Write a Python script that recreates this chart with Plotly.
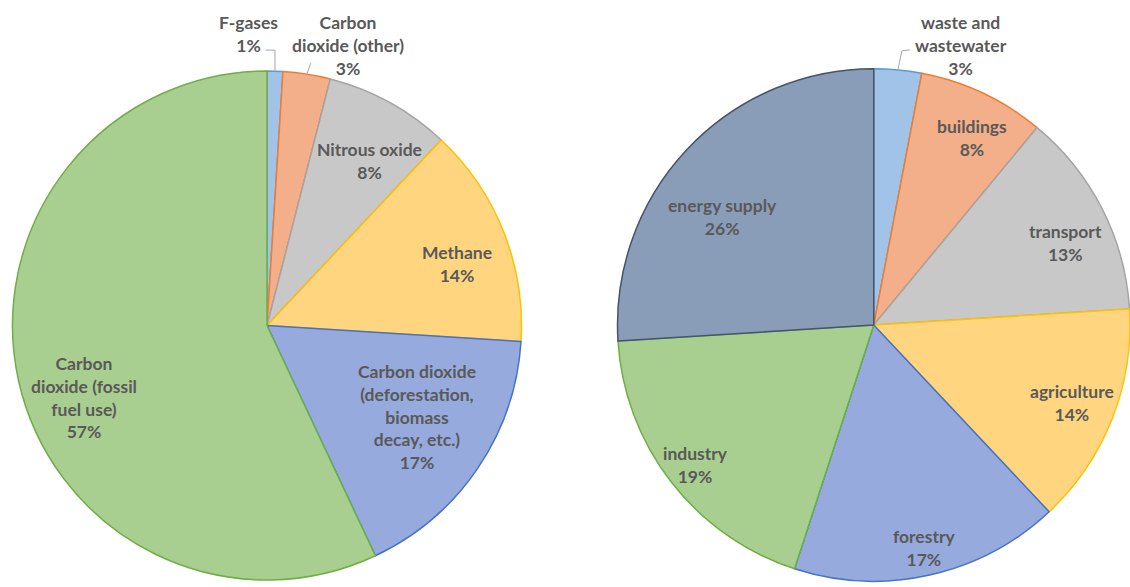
import math
import plotly.graph_objects as go

W, H = 1130, 587

# Global greenhouse gas emissions by gas (share of total, %)
gas_names = [
    "F-gases",
    "Carbon dioxide (other)",
    "Nitrous oxide",
    "Methane",
    "Carbon dioxide (deforestation, biomass decay, etc.)",
    "Carbon dioxide (fossil fuel use)",
]
gas_share = [1, 3, 8, 14, 17, 57]

# Global greenhouse gas emissions by economic sector (share of total, %)
sector_names = [
    "waste and wastewater",
    "buildings",
    "transport",
    "agriculture",
    "forestry",
    "industry",
    "energy supply",
]
sector_share = [3, 8, 13, 14, 17, 19, 26]

# How long names wrap inside the labels
wrapped = {
    "Carbon dioxide (other)": ["Carbon", "dioxide (other)"],
    "Carbon dioxide (deforestation, biomass decay, etc.)":
        ["Carbon dioxide", "(deforestation,", "biomass", "decay, etc.)"],
    "Carbon dioxide (fossil fuel use)": ["Carbon", "dioxide (fossil", "fuel use)"],
    "waste and wastewater": ["waste and", "wastewater"],
}

# Slice styling
gas_fill = ["#A2C3E8", "#F3AF8A", "#C8C8C8", "#FFD67F", "#96AADD", "#A9CF90"]
gas_edge = ["#5B9BD5", "#ED7D31", "#A5A5A5", "#FFC000", "#4472C4", "#70AD47"]
sector_fill = ["#A2C3E8", "#F3AF8A", "#C8C8C8", "#FFD67F", "#96AADD", "#A9CF90", "#8A9DB8"]
sector_edge = ["#5B9BD5", "#ED7D31", "#A5A5A5", "#FFC000", "#4472C4", "#70AD47", "#44546A"]

# Label placement: (radius fraction, angular nudge in degrees from slice middle)
gas_label_pos = [(1.148, -5.5), (1.147, 7.1), (0.761, 3.0), (0.785, 3.7), (0.69, -2.8), (0.773, -9.0)]
sector_label_pos = [(1.143, 11.9), (0.823, 2.5), (0.814, 3.9), (0.83, 0.0), (0.891, 0.0), (0.883, -0.4), (0.724, -7.6)]

# Leader lines for small slices labelled outside: pixel offsets from the rim point
gas_leaders = {0: [(0, 0), (0, -21), (-9, -21)], 1: [(0, 0), (4, -11)]}
sector_leaders = {0: [(0, 0), (4, -19), (12, -20)]}

# Pie centres and radii in pixels
PIES = [
    dict(cx=267.0, cy=325.5, r=254.5),
    dict(cx=873.75, cy=325.0, r=256.25),
]

FONT = dict(family="Lato, Calibri, sans-serif", size=17.5, color="#595959", weight="bold")
LEADER_COLOR = "#A6A6A6"


def px_to_paper(x, y):
    return x / W, 1 - y / H


def domain_for(p):
    x0, y1 = px_to_paper(p["cx"] - p["r"], p["cy"] - p["r"])
    x1, y0 = px_to_paper(p["cx"] + p["r"], p["cy"] + p["r"])
    return dict(x=[max(0, x0), min(1, x1)], y=[max(0, y0), min(1, y1)])


def mid_angles(values):
    total = sum(values)
    out, acc = [], 0.0
    for v in values:
        out.append((acc + v / 2) / total * 360.0)
        acc += v
    return out


def polar(p, frac, deg):
    a = math.radians(deg)
    return p["cx"] + frac * p["r"] * math.sin(a), p["cy"] - frac * p["r"] * math.cos(a)


fig = go.Figure()
annotations, shapes = [], []

series = [
    (gas_names, gas_share, gas_fill, gas_edge, gas_label_pos, gas_leaders),
    (sector_names, sector_share, sector_fill, sector_edge, sector_label_pos, sector_leaders),
]

for p, (names, vals, fills, edges, lpos, leaders) in zip(PIES, series):
    fig.add_trace(go.Pie(
        labels=names,
        values=vals,
        sort=False,
        direction="clockwise",
        rotation=0,
        textinfo="none",
        hoverinfo="label+percent",
        marker=dict(colors=fills, line=dict(color=edges, width=1.5)),
        domain=domain_for(p),
        showlegend=False,
    ))
    mids = mid_angles(vals)
    for i, (name, v) in enumerate(zip(names, vals)):
        frac, nudge = lpos[i]
        lx, ly = polar(p, frac, mids[i] + nudge)
        ax, ay = px_to_paper(lx, ly)
        lines = wrapped.get(name, [name]) + [f"{v}%"]
        annotations.append(dict(
            x=ax, y=ay, xref="paper", yref="paper",
            xanchor="center", yanchor="middle",
            text="<br>".join(lines), showarrow=False, font=FONT,
        ))
        if i in leaders:
            rx, ry = polar(p, 1.0, mids[i])
            pts = [px_to_paper(rx + dx, ry + dy) for dx, dy in leaders[i]]
            path = "M " + " L ".join(f"{x:.5f},{y:.5f}" for x, y in pts)
            shapes.append(dict(type="path", path=path, xref="paper", yref="paper",
                               line=dict(color=LEADER_COLOR, width=1)))

fig.update_layout(
    width=W, height=H,
    margin=dict(l=0, r=0, t=0, b=0),
    paper_bgcolor="white", plot_bgcolor="white",
    annotations=annotations, shapes=shapes,
)

fig.write_html("out.html")
